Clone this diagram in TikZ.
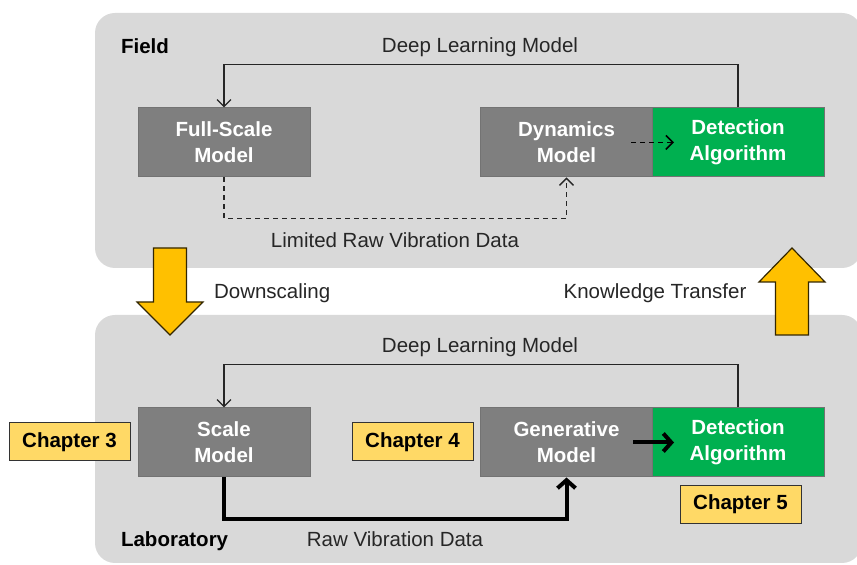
\documentclass[tikz,border=0pt]{standalone}
\usepackage{fontspec}
\setmainfont{Liberation Sans}
\usepackage{xcolor}
\usepackage{tikz}
\usetikzlibrary{arrows.meta}
\definecolor{panelgray}{HTML}{D9D9D9}
\definecolor{boxgray}{HTML}{7F7F7F}
\definecolor{boxgreen}{HTML}{00B050}
\definecolor{arrowyellow}{HTML}{FFC000}
\definecolor{chapyellow}{HTML}{FFD966}
\definecolor{inkgray}{HTML}{262626}

\begin{document}
\begin{tikzpicture}[x=0.5pt, y=-0.5pt,
		every node/.style={font=\fontsize{10.25}{13}\selectfont, text=inkgray},
		panel/.style={fill=panelgray, rounded corners=10pt},
		title/.style={anchor=west, font=\fontsize{10.25}{13}\selectfont\bfseries, text=black},
		model/.style={draw=black!55, line width=0.5pt, fill=boxgray, text=white, align=center,
			font=\fontsize{10.25}{13}\selectfont\bfseries, minimum width=86pt, minimum height=34.5pt, inner sep=0pt},
		detector/.style={model, fill=boxgreen},
		chapter/.style={draw=black!80, line width=0.5pt, fill=chapyellow, text=black,
			font=\fontsize{10.25}{13}\selectfont\bfseries, minimum width=60.5pt, minimum height=19pt, inner sep=0pt},
		flow/.style={draw=inkgray, line width=0.65pt, -{Straight Barb[length=3.5pt,width=7pt]}},
		limited/.style={flow, dash pattern=on 2.5pt off 2pt},
		rawflow/.style={draw=black, line width=2pt, -{Straight Barb[length=4pt,width=9pt]}},
		bigarrow/.style={fill=arrowyellow, draw=black!80!arrowyellow, line width=0.6pt, line join=miter}]
	\useasboundingbox (0,0) rectangle (857,565);

	% panels
	\fill[panel] (95,13) rectangle (862,268);
	\fill[panel] (95,315) rectangle (862,563);

	% field
	\node[title] (field) at (114,46) {Field};
	\node[model] (full) at (224,142.5) {Full-Scale\\Model};
	\node[model] (dynamics) at (566.5,142.5) {Dynamics\\Model};
	\node[detector] (detectField) at (738,142.5) {Detection\\Algorithm};
	\draw[flow] (detectField.north) -- ++(0,-43) -| (full.north);
	\node (dlField) at (480,47) {Deep Learning Model};
	\draw[limited] (full.south) -- ++(0,41) -| (dynamics.south);
	\node (limitedData) at (395,240) {Limited Raw Vibration Data};
	\draw[limited, line width=0.8pt, draw=black] (dynamics.east) ++(-22,0) -- ++(43,0);

	% laboratory
	\node[title] (lab) at (114,541) {Laboratory};
	\node[model] (scale) at (224,442.5) {Scale\\Model};
	\node[model] (generative) at (566.5,442.5) {Generative\\Model};
	\node[detector] (detectLab) at (738,442.5) {Detection\\Algorithm};
	\draw[flow] (detectLab.north) -- ++(0,-43) -| (scale.north);
	\node (dlLab) at (480,347) {Deep Learning Model};
	\draw[rawflow] (scale.south) -- ++(0,42) -| (generative.south);
	\node (rawData) at (395,539) {Raw Vibration Data};
	\draw[rawflow] (generative.east) ++(-20,0) -- ++(41,0);

	\node[chapter] (ch3) at (69.5,442) {Chapter 3};
	\node[chapter] (ch4) at (412.5,442) {Chapter 4};
	\node[chapter] (ch5) at (740.5,504.5) {Chapter 5};

	% downscaling and transfer
	\draw[bigarrow] (153.5,248) -- (186.5,248) -- (186.5,302) -- (203,302) -- (170,335)
		-- (137,302) -- (153.5,302) -- cycle;
	\node[anchor=west] (down) at (207,293) {Downscaling};
	\draw[bigarrow] (775.5,335) -- (808.5,335) -- (808.5,282) -- (825,282) -- (792,248)
		-- (759,282) -- (775.5,282) -- cycle;
	\node (transfer) at (655,293) {Knowledge Transfer};
\end{tikzpicture}
\end{document}
